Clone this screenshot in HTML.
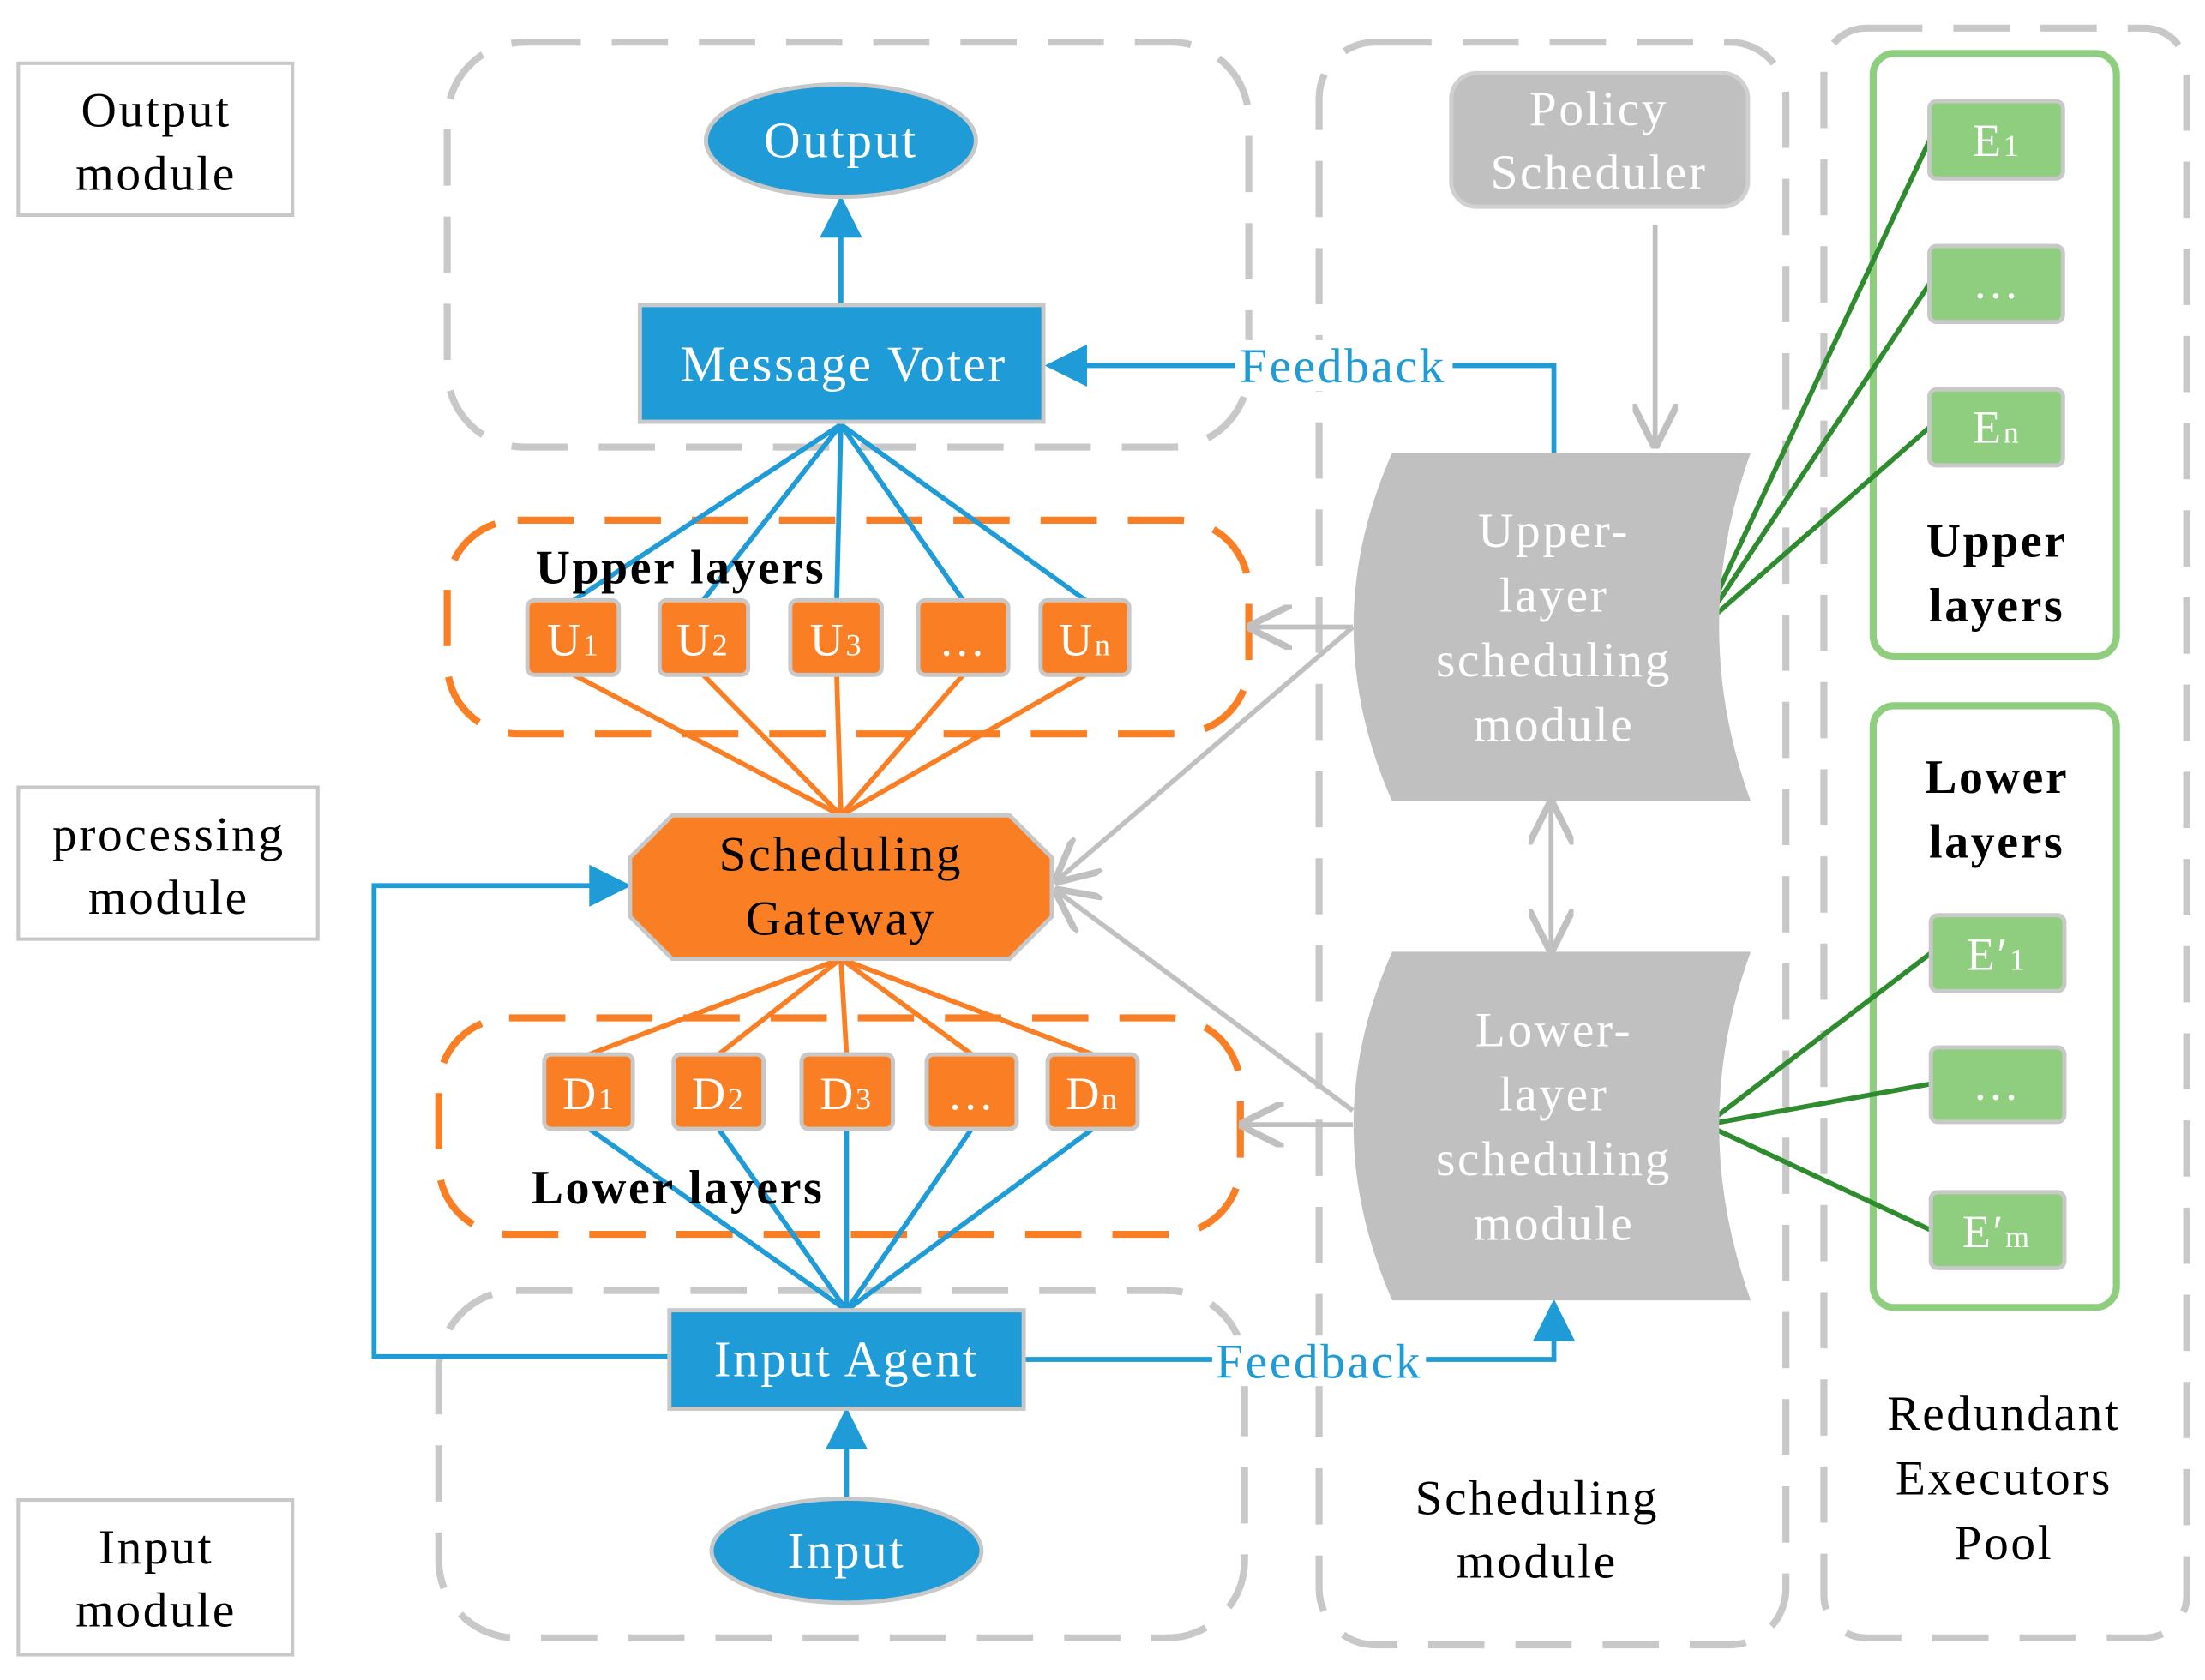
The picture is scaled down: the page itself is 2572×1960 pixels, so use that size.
<!DOCTYPE html>
<html><head><meta charset="utf-8"><style>html,body{margin:0;padding:0;background:#fff}svg{display:block}text{letter-spacing:1.6px}</style></head><body>
<svg width="2572" height="1960" viewBox="0 0 1568 1195" preserveAspectRatio="none" xmlns="http://www.w3.org/2000/svg" font-family="Liberation Serif, serif">
<defs>
<marker id="abb" viewBox="0 0 10 10" refX="9" refY="5" markerWidth="34" markerHeight="30" orient="auto" markerUnits="userSpaceOnUse"><path d="M0,0 L10,5 L0,10 Z" fill="#1f9bd7"/></marker>
<marker id="ag" viewBox="0 0 10 10" refX="9" refY="5" markerWidth="32" markerHeight="32" orient="auto-start-reverse" markerUnits="userSpaceOnUse"><path d="M0,0 L10,5 L0,10" fill="none" stroke="#c0c0c0" stroke-width="1.5"/></marker>
</defs>
<g fill="none" stroke="#c8c8c8" stroke-width="2.5">
<rect x="13" y="45" width="195" height="108"/>
<rect x="13" y="560" width="213" height="108"/>
<rect x="13" y="1067" width="195" height="110"/>
</g>
<g font-size="35" text-anchor="middle" fill="#000">
<text x="111" y="90">Output</text><text x="111" y="135">module</text>
<text x="120" y="605">processing</text><text x="120" y="650">module</text>
<text x="111" y="1112">Input</text><text x="111" y="1157">module</text>
<text x="1093" y="1077">Scheduling</text><text x="1093" y="1122">module</text>
<text x="1425" y="1017">Redundant</text><text x="1425" y="1063">Executors</text><text x="1425" y="1109">Pool</text>
</g>
<g fill="none" stroke="#c8c8c8" stroke-width="5" stroke-dasharray="40,22">
<rect x="318" y="30" width="570" height="288" rx="55"/>
<rect x="312" y="918" width="573" height="247" rx="55"/>
<rect x="938" y="30" width="332" height="1140" rx="40"/>
<rect x="1297" y="20" width="258" height="1145" rx="30"/>
</g>
<g fill="none" stroke="#fa7f24" stroke-width="5" stroke-dasharray="40,22">
<rect x="318" y="370" width="570" height="152" rx="50"/>
<rect x="312" y="724" width="570" height="154" rx="50"/>
</g>
<g fill="none" stroke="#8fce7f" stroke-width="5">
<rect x="1332" y="38" width="173" height="429" rx="15"/>
<rect x="1332" y="502" width="173" height="428" rx="15"/>
</g>
<g stroke="#2e8b2e" stroke-width="3.5">
<line x1="1210" y1="446" x2="1372" y2="100"/><line x1="1210" y1="446" x2="1372" y2="202"/><line x1="1210" y1="446" x2="1372" y2="304"/>
<line x1="1213" y1="800" x2="1373" y2="678"/><line x1="1213" y1="800" x2="1373" y2="771"/><line x1="1213" y1="800" x2="1373" y2="875"/>
</g>
<g stroke="#c0c0c0" stroke-width="3.5" fill="none">
<line x1="1177" y1="160" x2="1177" y2="316" marker-end="url(#ag)"/>
<line x1="962" y1="446" x2="890" y2="446" marker-end="url(#ag)"/>
<line x1="962" y1="446" x2="752" y2="626" marker-end="url(#ag)"/>
<line x1="962" y1="800" x2="884" y2="800" marker-end="url(#ag)"/>
<line x1="962" y1="790" x2="752" y2="634" marker-end="url(#ag)"/>
<line x1="1103" y1="572" x2="1103" y2="675" marker-end="url(#ag)" marker-start="url(#ag)"/>
</g>
<g stroke="#1f9bd7" stroke-width="3.5" fill="none">
<line x1="598" y1="302" x2="408" y2="427"/><line x1="598" y1="302" x2="500" y2="427"/><line x1="598" y1="302" x2="595" y2="427"/><line x1="598" y1="302" x2="685" y2="427"/><line x1="598" y1="302" x2="772" y2="427"/>
<line x1="419" y1="803" x2="602" y2="932"/><line x1="511" y1="803" x2="602" y2="932"/><line x1="602" y1="803" x2="602" y2="932"/><line x1="691" y1="803" x2="602" y2="932"/><line x1="777" y1="803" x2="602" y2="932"/>
<line x1="598" y1="217" x2="598" y2="142" marker-end="url(#abb)"/>
<line x1="602" y1="1065" x2="602" y2="1004" marker-end="url(#abb)"/>
<polyline points="1105,322 1105,260 746,260" marker-end="url(#abb)"/>
<polyline points="728,967 1105,967 1105,927" marker-end="url(#abb)"/>
<polyline points="476,965 266,965 266,630 446,630" marker-end="url(#abb)"/>
</g>
<g stroke="#fa7f24" stroke-width="3.5">
<line x1="408" y1="480" x2="598" y2="580"/><line x1="500" y1="480" x2="598" y2="580"/><line x1="595" y1="480" x2="598" y2="580"/><line x1="685" y1="480" x2="598" y2="580"/><line x1="772" y1="480" x2="598" y2="580"/>
<line x1="598" y1="682" x2="419" y2="750"/><line x1="598" y1="682" x2="511" y2="750"/><line x1="598" y1="682" x2="602" y2="750"/><line x1="598" y1="682" x2="691" y2="750"/><line x1="598" y1="682" x2="777" y2="750"/>
</g>
<g font-size="35" text-anchor="middle" fill="#1f9bd7">
<rect x="878" y="242" width="155" height="36" fill="#fff"/><text x="955" y="272">Feedback</text>
<rect x="862" y="950" width="152" height="36" fill="#fff"/><text x="938" y="980">Feedback</text>
</g>
<g fill="#1f9bd7" stroke="#c8c8c8" stroke-width="3">
<ellipse cx="598" cy="100" rx="96" ry="40"/>
<rect x="455" y="217" width="287" height="83"/>
<rect x="476" y="932" width="252" height="70"/>
<ellipse cx="602" cy="1103" rx="96" ry="37"/>
</g>
<g font-size="36" text-anchor="middle" fill="#fff">
<text x="598" y="112">Output</text><text x="600" y="271">Message Voter</text><text x="602" y="979">Input Agent</text><text x="602" y="1115">Input</text>
</g>
<polygon points="478,580 718,580 748,610 748,652 718,682 478,682 448,652 448,610" fill="#fa7f24" stroke="#c8c8c8" stroke-width="3"/>
<text x="598" y="619" font-size="35" text-anchor="middle">Scheduling</text><text x="598" y="665" font-size="35" text-anchor="middle">Gateway</text>
<g fill="#fa7f24" stroke="#c8c8c8" stroke-width="3">
<rect x="375" y="427" width="65" height="53" rx="5"/><rect x="469" y="427" width="63" height="53" rx="5"/><rect x="562" y="427" width="65" height="53" rx="5"/><rect x="653" y="427" width="64" height="53" rx="5"/><rect x="740" y="427" width="63" height="53" rx="5"/>
<rect x="387" y="750" width="63" height="53" rx="5"/><rect x="479" y="750" width="64" height="53" rx="5"/><rect x="570" y="750" width="65" height="53" rx="5"/><rect x="659" y="750" width="64" height="53" rx="5"/><rect x="745" y="750" width="64" height="53" rx="5"/>
</g>
<g font-size="33" text-anchor="middle" fill="#fff">
<text x="408" y="466">U<tspan font-size="22">1</tspan></text><text x="500" y="466">U<tspan font-size="22">2</tspan></text><text x="595" y="466">U<tspan font-size="22">3</tspan></text><text x="685" y="466">…</text><text x="772" y="466">U<tspan font-size="22">n</tspan></text>
<text x="419" y="789">D<tspan font-size="22">1</tspan></text><text x="511" y="789">D<tspan font-size="22">2</tspan></text><text x="602" y="789">D<tspan font-size="22">3</tspan></text><text x="691" y="789">…</text><text x="777" y="789">D<tspan font-size="22">n</tspan></text>
</g>
<g font-size="34" font-weight="bold" text-anchor="middle" fill="#000" style="letter-spacing:2.5px">
<text x="484" y="415">Upper layers</text><text x="482" y="856">Lower layers</text>
<text x="1420" y="396">Upper</text><text x="1420" y="442">layers</text>
<text x="1420" y="564">Lower</text><text x="1420" y="610">layers</text>
</g>
<rect x="1032" y="52" width="211" height="95" rx="18" fill="#c0c0c0" stroke="#d0d0d0" stroke-width="3"/>
<text x="1137" y="89" font-size="35" text-anchor="middle" fill="#fff">Policy</text><text x="1137" y="134" font-size="35" text-anchor="middle" fill="#fff">Scheduler</text>
<path d="M990,322 L1245,322 Q1200,446 1245,570 L990,570 Q935,446 990,322 Z" fill="#c0c0c0"/>
<path d="M990,677 L1245,677 Q1200,800 1245,925 L990,925 Q935,800 990,677 Z" fill="#c0c0c0"/>
<g font-size="35" text-anchor="middle" fill="#fff">
<text x="1105" y="389">Upper-</text><text x="1105" y="435">layer</text><text x="1105" y="481">scheduling</text><text x="1105" y="527">module</text>
<text x="1105" y="744">Lower-</text><text x="1105" y="790">layer</text><text x="1105" y="836">scheduling</text><text x="1105" y="882">module</text>
</g>
<g fill="#8fce7f" stroke="#c8c8c8" stroke-width="3">
<rect x="1372" y="72" width="95" height="55" rx="5"/><rect x="1372" y="175" width="95" height="54" rx="5"/><rect x="1372" y="277" width="95" height="54" rx="5"/>
<rect x="1373" y="651" width="95" height="54" rx="5"/><rect x="1373" y="745" width="95" height="53" rx="5"/><rect x="1373" y="848" width="95" height="54" rx="5"/>
</g>
<g font-size="33" text-anchor="middle" fill="#fff">
<text x="1420" y="111">E<tspan font-size="22">1</tspan></text><text x="1420" y="212">…</text><text x="1420" y="315">E<tspan font-size="22">n</tspan></text>
<text x="1420" y="690">E′<tspan font-size="22">1</tspan></text><text x="1420" y="782">…</text><text x="1420" y="887">E′<tspan font-size="22">m</tspan></text>
</g>
</svg>
</body></html>
